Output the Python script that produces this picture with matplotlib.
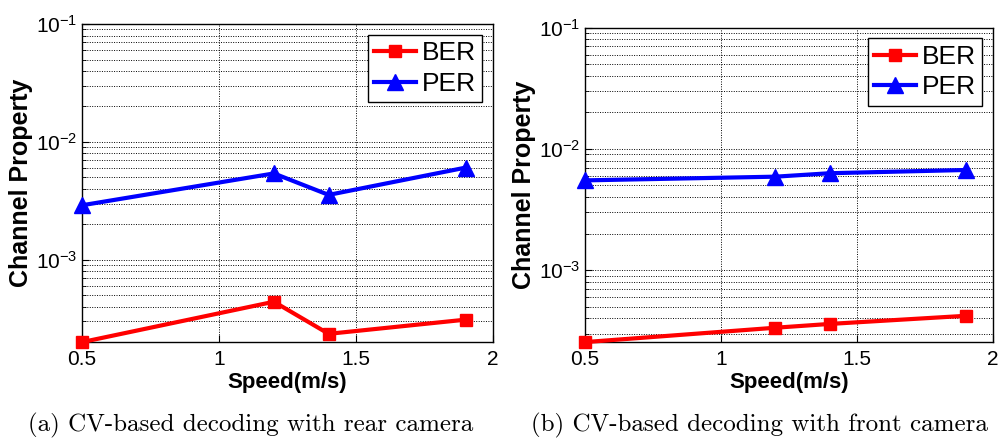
import matplotlib
matplotlib.use('Agg')
import matplotlib.pyplot as plt
from matplotlib.ticker import LogLocator, NullFormatter

plt.rcParams['font.family'] = ['Liberation Sans', 'DejaVu Sans']
plt.rcParams['mathtext.fontset'] = 'custom'
plt.rcParams['mathtext.rm'] = 'Liberation Sans'
plt.rcParams['mathtext.it'] = 'Liberation Sans'

speed = [0.5, 1.2, 1.4, 1.9]

# (a) rear camera
ber_rear = [2.0e-4, 4.4e-4, 2.35e-4, 3.1e-4]
per_rear = [2.9e-3, 5.4e-3, 3.55e-3, 6.05e-3]

# (b) front camera
ber_front = [2.55e-4, 3.35e-4, 3.6e-4, 4.2e-4]
per_front = [5.5e-3, 5.9e-3, 6.3e-3, 6.7e-3]

captions = ['(a) CV-based decoding with rear camera',
            '(b) CV-based decoding with front camera']

fig = plt.figure(figsize=(10.02, 4.46), dpi=100)
ax1 = fig.add_axes([0.082, 0.233, 0.410, 0.713])
ax2 = fig.add_axes([0.584, 0.233, 0.407, 0.705])

panels = [(ax1, ber_rear, per_rear, 2.0e-4), (ax2, ber_front, per_front, 2.55e-4)]

for i, (ax, ber, per, ymin) in enumerate(panels):
    ax.semilogy(speed, ber, color='red', marker='s', markersize=9, linewidth=3, label='BER',
                clip_on=False, zorder=3)
    ax.semilogy(speed, per, color='blue', marker='^', markersize=11, linewidth=3, label='PER',
                clip_on=False, zorder=3)
    ax.set_xlim(0.5, 2)
    ax.set_ylim(ymin, 1e-1)
    ax.set_xticks([0.5, 1, 1.5, 2])
    ax.set_xticklabels(['0.5', '1', '1.5', '2'])
    ax.yaxis.set_minor_locator(LogLocator(base=10, subs=range(2, 10), numticks=20))
    ax.yaxis.set_minor_formatter(NullFormatter())
    ax.set_yticks([1e-3, 1e-2, 1e-1])
    ax.set_yticklabels([r'$10^{-3}$', r'$10^{-2}$', r'$10^{-1}$'])
    ax.tick_params(axis='both', which='major', labelsize=15, direction='in', length=5)
    ax.tick_params(axis='both', which='minor', direction='in', length=3)
    ax.tick_params(axis='x', pad=6)
    ax.grid(True, which='both', color='black', linestyle=(0, (1, 1.5)), linewidth=0.7)
    ax.set_xlabel('Speed(m/s)', fontsize=16, fontweight='bold', labelpad=2)
    ax.set_ylabel('Channel Property', fontsize=18, fontweight='bold', labelpad=2)
    leg = ax.legend(loc='upper right', fontsize=19, fancybox=False, framealpha=1,
                    edgecolor='black', handlelength=1.6, handletextpad=0.2,
                    borderaxespad=0.4, borderpad=0.25, labelspacing=0.25)
    leg.get_frame().set_linewidth(1.0)
    for s in ax.spines.values():
        s.set_linewidth(1.0)

fig.text(0.25, 0.047, captions[0], ha='center', va='center', fontsize=18,
         family=['cmr10', 'DejaVu Serif'])
fig.text(0.758, 0.047, captions[1], ha='center', va='center', fontsize=18,
         family=['cmr10', 'DejaVu Serif'])

fig.savefig('out.png', dpi=100)
plt.close()
